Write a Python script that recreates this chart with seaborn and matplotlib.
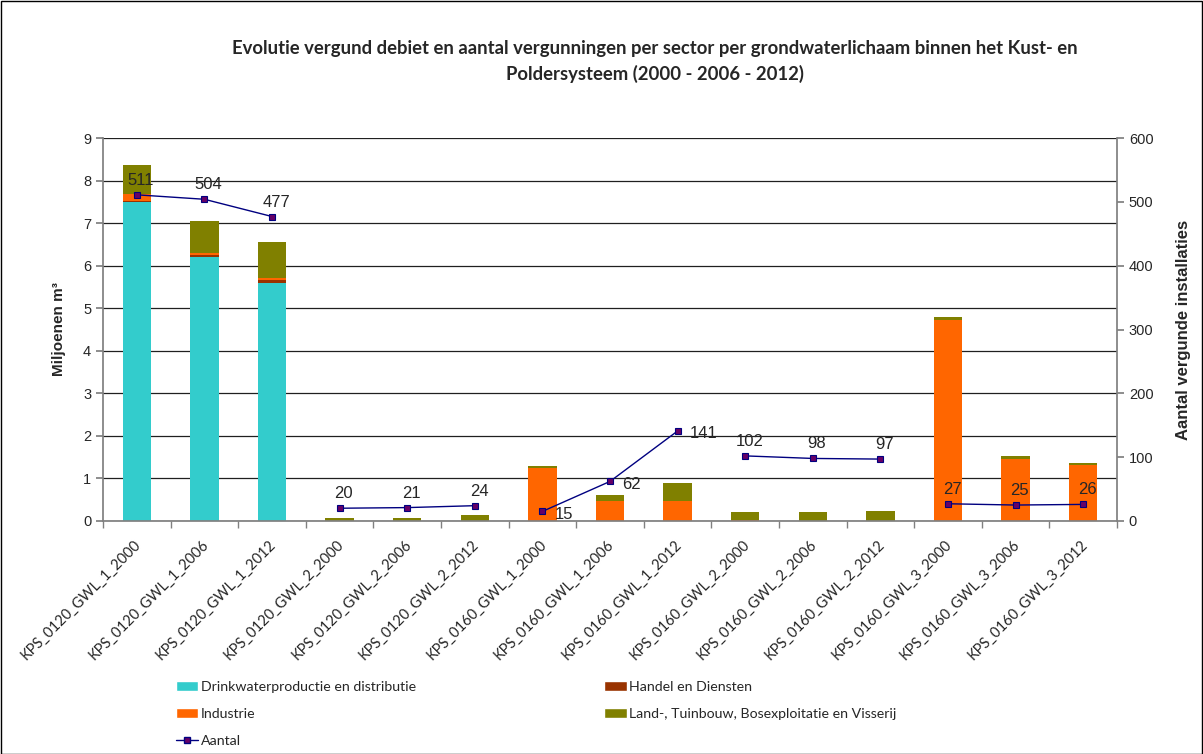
import numpy as np
import pandas as pd
import matplotlib
matplotlib.use("Agg")
import matplotlib.pyplot as plt
from matplotlib.patches import Patch, Rectangle
from matplotlib.lines import Line2D
from matplotlib.transforms import ScaledTranslation
import seaborn as sns

categories = ["KPS_0120_GWL_1_2000", "KPS_0120_GWL_1_2006", "KPS_0120_GWL_1_2012",
              "KPS_0120_GWL_2_2000", "KPS_0120_GWL_2_2006", "KPS_0120_GWL_2_2012",
              "KPS_0160_GWL_1_2000", "KPS_0160_GWL_1_2006", "KPS_0160_GWL_1_2012",
              "KPS_0160_GWL_2_2000", "KPS_0160_GWL_2_2006", "KPS_0160_GWL_2_2012",
              "KPS_0160_GWL_3_2000", "KPS_0160_GWL_3_2006", "KPS_0160_GWL_3_2012"]
groups = ["0120_1"] * 3 + ["0120_2"] * 3 + ["0160_1"] * 3 + ["0160_2"] * 3 + ["0160_3"] * 3
drinkwater = [7.49, 6.20, 5.60, 0, 0, 0, 0, 0, 0, 0, 0, 0, 0, 0, 0]
handel = [0.04, 0.04, 0.07, 0, 0, 0, 0, 0, 0, 0, 0, 0, 0.01, 0, 0]
industrie = [0.15, 0.05, 0.05, 0, 0, 0, 1.25, 0.48, 0.48, 0.02, 0, 0, 4.72, 1.46, 1.32]
land = [0.69, 0.76, 0.83, 0.07, 0.07, 0.14, 0.05, 0.12, 0.41, 0.20, 0.20, 0.24, 0.06, 0.06, 0.05]
aantal = [511, 504, 477, 20, 21, 24, 15, 62, 141, 102, 98, 97, 27, 25, 26]
series_names = ["Drinkwaterproductie en distributie", "Handel en Diensten",
                "Industrie", "Land-, Tuinbouw, Bosexploitatie en Visserij"]
title = "Evolutie vergund debiet en aantal vergunningen per sector per grondwaterlichaam binnen het Kust- en\nPoldersysteem (2000 - 2006 - 2012)"

colors = ["#33CCCC", "#993300", "#FF6600", "#808000"]
line_color = "#000080"
marker_color = "#660066"

df = pd.DataFrame({"cat": categories, "group": groups,
                   "s0": drinkwater, "s1": handel, "s2": industrie, "s3": land,
                   "aantal": aantal})
df["pos"] = np.arange(len(df))
cum = df[["s0", "s1", "s2", "s3"]].cumsum(axis=1)

sns.set_theme(style="white")
plt.rcParams["font.family"] = ["Liberation Sans", "DejaVu Sans"]

fig = plt.figure(figsize=(12.03, 7.54), dpi=100)
ax = fig.add_axes([103 / 1203, 1 - 521 / 754, (1117 - 103) / 1203, (521 - 138) / 754])

for i in [3, 2, 1, 0]:
    sns.barplot(x=df["cat"], y=cum.iloc[:, i], color=colors[i], width=0.42,
                saturation=1, ax=ax, order=categories, linewidth=0)

ax.set_ylim(0, 9)
ax.set_xlim(-0.5, len(categories) - 0.5)
ax.set_yticks(range(0, 10))
ax.yaxis.grid(True, color="#202020", lw=0.9)
ax.set_axisbelow(True)
for s in ["top", "right"]:
    ax.spines[s].set_visible(False)
ax.spines["left"].set_color("#808080")
ax.spines["bottom"].set_color("#808080")
ax.set_xticks(range(len(categories)))
ax.set_xticklabels(categories, rotation=45, ha="right", rotation_mode="anchor",
                   fontsize=10.5, family="Lato")
ax.tick_params(axis="x", which="major", length=0, pad=12)
ax.set_xticks(np.arange(-0.5, len(categories), 1), minor=True)
ax.tick_params(axis="x", which="minor", length=5, color="#808080", direction="out", bottom=True)
ax.tick_params(axis="y", length=5, color="#808080", direction="out", left=True, labelsize=10.5)
ax.set_xlabel("")
ax.set_ylabel("Miljoenen m³", fontsize=11, fontweight="bold", labelpad=12)

offset = ScaledTranslation(-3 / 100, 0, fig.dpi_scale_trans)
for lbl in ax.get_xticklabels():
    lbl.set_transform(lbl.get_transform() + offset)

ax2 = ax.twinx()
sns.lineplot(data=df, x="pos", y="aantal", hue="group",
             palette=[line_color] * 5, legend=False, ax=ax2, lw=1,
             marker="s", markersize=5, markerfacecolor=marker_color,
             markeredgecolor=line_color, markeredgewidth=0.8)
ax2.set_ylim(0, 600)
ax2.set_yticks(range(0, 601, 100))
ax2.set_xlim(-0.5, len(categories) - 0.5)
for s in ["top", "left", "bottom"]:
    ax2.spines[s].set_visible(False)
ax2.spines["right"].set_color("#808080")
ax2.tick_params(axis="y", length=5, color="#808080", direction="out", right=True, labelsize=10.5)
ax2.set_ylabel("Aantal vergunde installaties", fontsize=12, fontweight="bold", labelpad=16)
ax2.set_xlabel("")
ax2.grid(False)

right_labels = {6, 7, 8}
for p, v in zip(df["pos"], df["aantal"]):
    if p in right_labels:
        ax2.annotate(str(v), (p, v), xytext=(9, -2), textcoords="offset points",
                     ha="left", va="center", fontsize=12)
    else:
        ax2.annotate(str(v), (p, v), xytext=(3, 5), textcoords="offset points",
                     ha="center", va="bottom", fontsize=12)

fig.text(655 / 1203, 1 - 61.5 / 754, title, ha="center", va="center", fontsize=13.3,
         fontweight="bold", linespacing=1.5, family="Lato")

handles = [Patch(facecolor=colors[0], label=series_names[0]),
           Patch(facecolor=colors[2], label=series_names[2]),
           Line2D([0], [0], color=line_color, lw=1, marker="s", markersize=5,
                  markerfacecolor=marker_color, markeredgecolor=line_color, label="Aantal"),
           Patch(facecolor=colors[1], label=series_names[1]),
           Patch(facecolor=colors[3], label=series_names[3])]
leg = fig.legend(handles=handles, ncol=2, loc="upper left",
                 bbox_to_anchor=(163 / 1203, 1 - 668 / 754), frameon=False,
                 prop={"family": "Lato", "size": 10.2}, handlelength=1.6, handleheight=0.75,
                 handletextpad=0.15, columnspacing=13.3, labelspacing=1.05)

fig.patches.append(Rectangle((0.5 / 1203, 0.5 / 754), 1 - 1.5 / 1203, 1 - 1.5 / 754,
                             transform=fig.transFigure, fill=False, edgecolor="black", lw=1))

fig.savefig("out.png", dpi=100)
